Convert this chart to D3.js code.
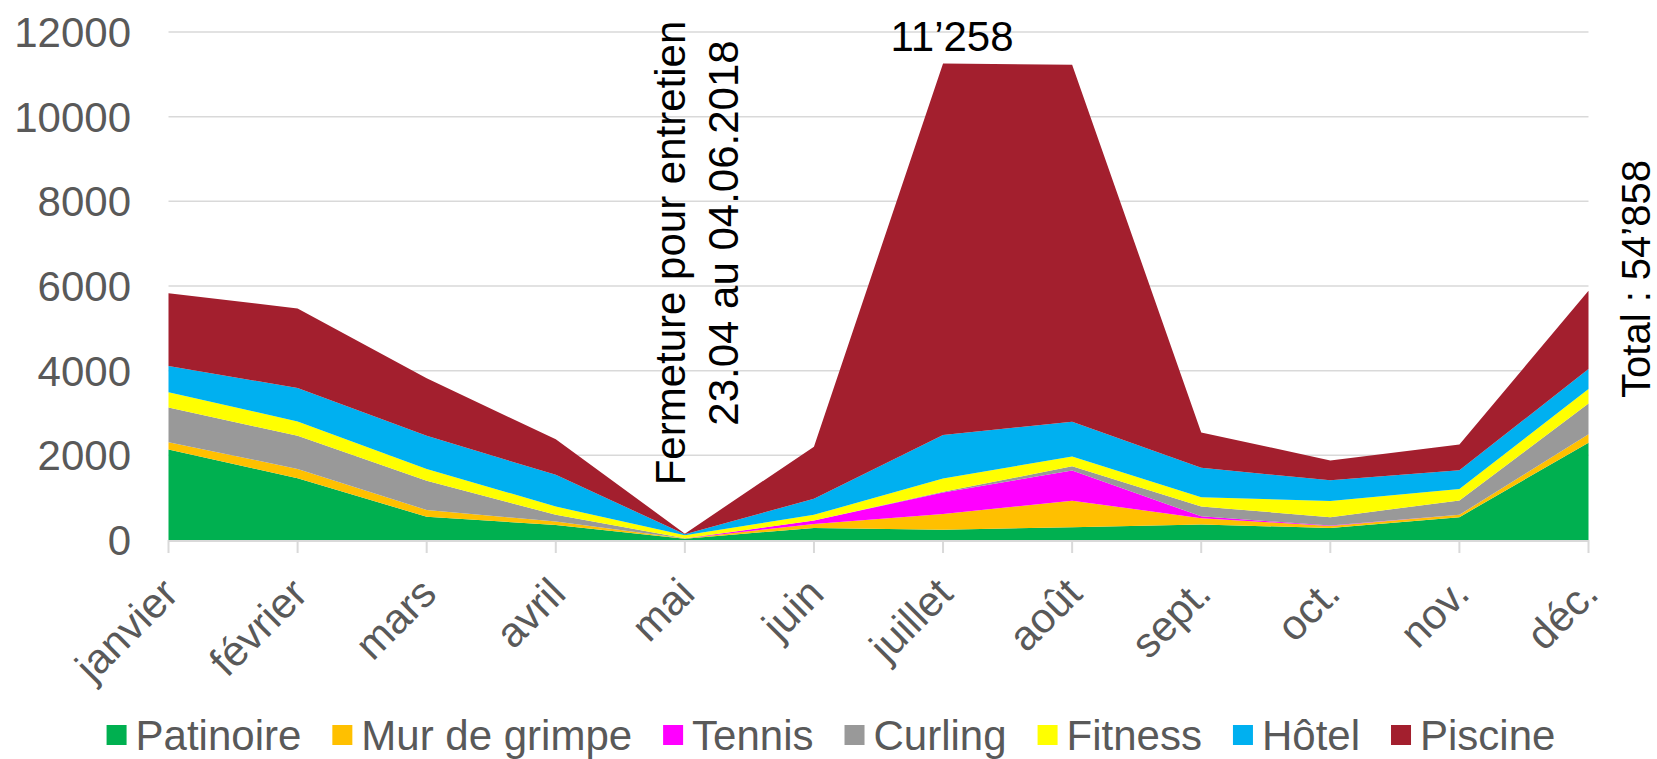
<!DOCTYPE html>
<html>
<head>
<meta charset="utf-8">
<script src="https://cdn.jsdelivr.net/npm/d3@7"></script>
<style>
  body { margin: 0; background: #fff; }
  svg text { font-family: "Liberation Sans", Arial, sans-serif; }
</style>
</head>
<body>
<svg width="1657" height="759"></svg>
<script>
// Monthly visitor counts per facility
const months = ["janvier", "février", "mars", "avril", "mai", "juin", "juillet", "août", "sept.", "oct.", "nov.", "déc."];
const patinoire   = [2140, 1460, 550, 355, 30, 285, 245, 300, 365, 285, 540, 2300];
const murDeGrimpe = [170, 220, 160, 80, 5, 95, 370, 630, 150, 45, 55, 200];
const tennis      = [0, 0, 0, 0, 0, 80, 510, 710, 45, 10, 0, 0];
const curling     = [820, 780, 690, 160, 5, 0, 15, 100, 230, 200, 340, 725];
const fitness     = [360, 340, 280, 195, 70, 135, 315, 230, 220, 380, 270, 340];
const hotel       = [620, 790, 780, 750, 25, 380, 1025, 825, 695, 490, 440, 475];
const piscine     = [1720, 1880, 1360, 840, 15, 1230, 8778, 8430, 835, 470, 610, 1850];

const seriesNames = ["Patinoire", "Mur de grimpe", "Tennis", "Curling", "Fitness", "Hôtel", "Piscine"];
const seriesValues = [patinoire, murDeGrimpe, tennis, curling, fitness, hotel, piscine];
const colors = ["#00b050", "#ffc000", "#ff00ff", "#999999", "#ffff00", "#00b0f0", "#a31f2e"];
const yTicks = [0, 2000, 4000, 6000, 8000, 10000, 12000];

const peakLabel = "11’258";
const totalLabel = "Total : 54’858";
const closureLines = ["Fermeture pour entretien", "23.04 au 04.06.2018"];

// build rows for d3.stack
const rows = months.map((m, i) => {
    const r = { month: m };
    seriesNames.forEach((s, j) => r[s] = seriesValues[j][i]);
    return r;
});

const svg = d3.select("svg");

const x = d3.scalePoint()
    .domain(months)
    .range([168.5, 1588.5]);

const y = d3.scaleLinear()
    .domain([0, 12000])
    .range([540, 32]);

// horizontal gridlines
svg.append("g")
  .selectAll("line")
  .data(yTicks.slice(1))
  .enter()
  .append("line")
    .attr("x1", x.range()[0])
    .attr("x2", x.range()[1])
    .attr("y1", d => y(d))
    .attr("y2", d => y(d))
    .attr("stroke", "#d9d9d9")
    .attr("stroke-width", 1.5);

// y axis labels
svg.append("g")
  .selectAll("text")
  .data(yTicks)
  .enter()
  .append("text")
    .attr("x", 131)
    .attr("y", d => y(d))
    .attr("dy", "0.36em")
    .attr("text-anchor", "end")
    .style("font-size", "42px")
    .style("fill", "#595959")
    .text(d => d);

// stacked areas
const stack = d3.stack().keys(seriesNames);
const layers = stack(rows);

const area = d3.area()
    .x(d => x(d.data.month))
    .y0(d => y(d[0]))
    .y1(d => y(d[1]));

svg.append("g")
  .selectAll("path")
  .data(layers)
  .enter()
  .append("path")
    .attr("d", area)
    .attr("fill", (d, i) => colors[i]);

// x axis line and ticks
svg.append("line")
    .attr("x1", x.range()[0])
    .attr("x2", x.range()[1])
    .attr("y1", y(0) + 1)
    .attr("y2", y(0) + 1)
    .attr("stroke", "#d9d9d9")
    .attr("stroke-width", 2);

svg.append("g")
  .selectAll("line")
  .data(months)
  .enter()
  .append("line")
    .attr("x1", d => x(d))
    .attr("x2", d => x(d))
    .attr("y1", y(0))
    .attr("y2", y(0) + 13)
    .attr("stroke", "#d9d9d9")
    .attr("stroke-width", 2);

// x axis labels, rotated
svg.append("g")
  .selectAll("text")
  .data(months)
  .enter()
  .append("text")
    .attr("transform", d => `translate(${x(d) + 12},596) rotate(-45)`)
    .attr("text-anchor", "end")
    .style("font-size", "42px")
    .style("fill", "#595959")
    .text(d => d);

// peak label above juillet
const totals = rows.map(r => d3.sum(seriesNames, s => r[s]));
svg.append("text")
    .attr("x", x("juillet") + 9)
    .attr("y", y(totals[6]) - 12)
    .attr("text-anchor", "middle")
    .style("font-size", "42px")
    .style("fill", "#000")
    .text(peakLabel);

// closure annotation (vertical, two lines)
const closureCenters = [253, 233];
closureLines.forEach((t, i) => {
    svg.append("text")
        .attr("transform", `translate(${x("mai") + i * 53},${closureCenters[i]}) rotate(-90)`)
        .attr("text-anchor", "middle")
        .style("font-size", "42px")
        .style("fill", "#000")
        .text(t);
});

// total label on the right
svg.append("text")
    .attr("transform", "translate(1650,279) rotate(-90)")
    .attr("text-anchor", "middle")
    .style("font-size", "40px")
    .style("fill", "#000")
    .text(totalLabel);

// legend
const legend = svg.append("g");
let lx = 0;
seriesNames.forEach((name, i) => {
    const item = legend.append("g").attr("transform", `translate(${lx},0)`);
    item.append("rect")
        .attr("x", 0)
        .attr("y", -10)
        .attr("width", 20)
        .attr("height", 20)
        .attr("fill", colors[i]);
    const t = item.append("text")
        .attr("x", 29)
        .attr("y", 0)
        .attr("dy", "0.36em")
        .style("font-size", "42px")
        .style("fill", "#595959")
        .text(name);
    lx += 29 + t.node().getComputedTextLength() + 31;
});
const legendWidth = lx - 31;
legend.attr("transform", `translate(${831 - legendWidth / 2},735)`);
</script>
</body>
</html>
